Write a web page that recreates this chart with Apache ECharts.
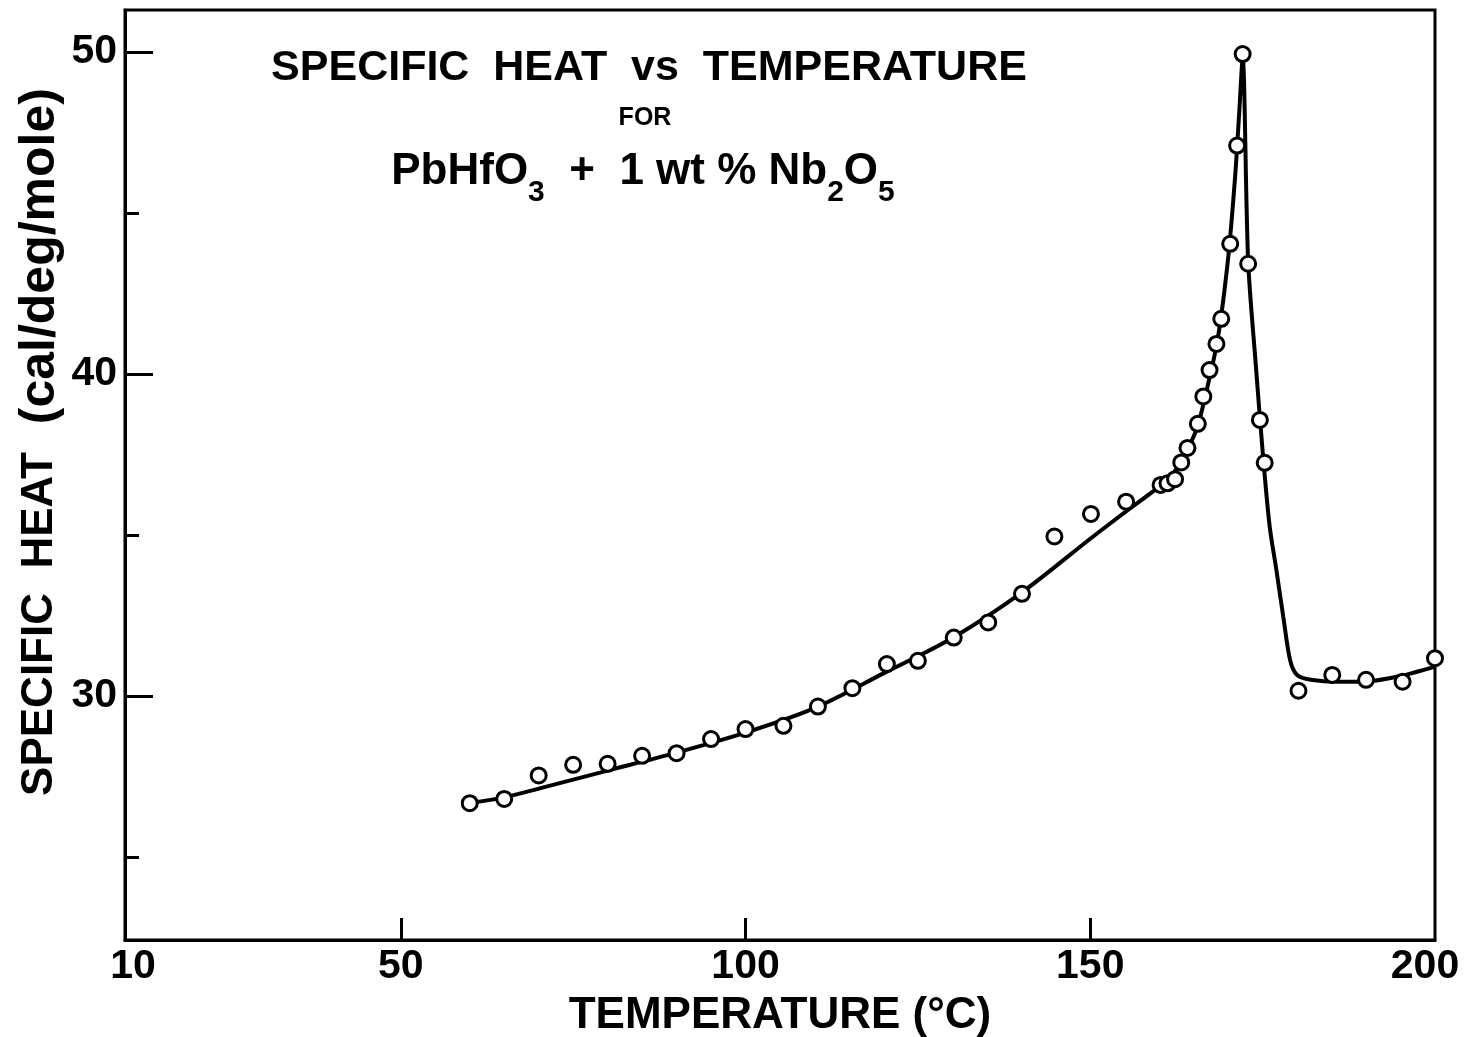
<!DOCTYPE html>
<html>
<head>
<meta charset="utf-8">
<script src="https://cdn.jsdelivr.net/npm/echarts@6/dist/echarts.min.js"></script>
<style>
  html, body { margin: 0; padding: 0; background: #fff; }
  #chart { width: 1466px; height: 1037px; }
</style>
</head>
<body>
<div id="chart"></div>
<script>
// Measured specific heat (open circles)
const measuredTemp = [60, 65, 70, 75, 80, 85, 90, 95, 100, 105.5, 110.5, 115.5, 120.5, 125, 130.2, 135.2,
  140.1, 144.8, 150.1, 155.2, 160.2, 161.2, 162.3, 163.2, 164.1, 165.6, 166.4, 167.3, 168.3, 169,
  170.3, 171.3, 172.1, 172.9, 174.6, 175.3, 180.2, 185.1, 190, 195.3, 200];
const measuredCp = [26.67, 26.80, 27.53, 27.86, 27.89, 28.14, 28.22, 28.66, 28.97, 29.07, 29.67, 30.24, 30.99, 31.09, 31.81, 32.28,
  33.17, 34.95, 35.65, 36.03, 36.55, 36.6, 36.73, 37.25, 37.7, 38.45, 39.3, 40.12, 40.93, 41.71,
  44.04, 47.09, 49.93, 43.42, 38.57, 37.24, 30.16, 30.65, 30.5, 30.44, 31.17];

// Hand-drawn smooth curve through the measurements
const curveTemp = [60, 65, 70, 80, 90, 100, 110, 120, 130, 140, 150, 155, 160, 162, 164,
  165.6, 167, 168.5, 170, 171, 171.6, 172.1, 172.9, 174, 175, 176, 177, 178, 179, 180, 182, 186, 190, 195, 200];
const curveCp = [26.67, 26.85, 27.12, 27.68, 28.24, 28.86, 29.62, 30.7, 31.8, 33.2, 34.88, 35.7, 36.5, 36.9, 37.6,
  38.4, 39.6, 41.1, 43.6, 46.1, 48.1, 49.8, 43.5, 40.3, 37.6, 35.3, 33.9, 32.45, 31.1, 30.65, 30.5, 30.44, 30.45, 30.62, 30.91];

// Axis tick labels
const xTickLabels = [10, 50, 100, 150, 200];
const xTickMarks = [50, 100, 150];
const yMajorTicks = [30, 40, 50];
const yMinorTicks = [25, 35, 45];

const FONT = '"Liberation Sans", Arial, sans-serif';
const INK = '#000';

const measured = measuredTemp.map((t, i) => [t, measuredCp[i]]);
const curve = curveTemp.map((t, i) => [t, curveCp[i]]);

const labelFont = { color: INK, fontFamily: FONT, fontWeight: 'bold', fontSize: 41 };

const chart = echarts.init(document.getElementById('chart'), null, { renderer: 'canvas' });

chart.setOption({
  animation: false,
  backgroundColor: '#fff',
  grid: {
    left: 125, right: 31, top: 10, bottom: 97,
    outerBoundsMode: 'none', containLabel: false,
    show: true, borderColor: INK, borderWidth: 3, backgroundColor: 'transparent'
  },
  xAxis: {
    type: 'value', min: 10, max: 200,
    axisLine: { show: true, lineStyle: { color: INK, width: 3 } },
    axisTick: { show: true, inside: true, length: 22, customValues: xTickMarks, lineStyle: { color: INK, width: 3 } },
    axisLabel: {
      customValues: xTickLabels, ...labelFont, margin: 6,
      // end labels are nudged inward so they stay under the frame corners
      formatter: v => v === 10 ? '{l|10}' : v === 200 ? '{r|200}' : String(v),
      rich: {
        l: { ...labelFont, padding: [0, 0, 0, 16] },
        r: { ...labelFont, padding: [0, 20, 0, 0] }
      }
    },
    splitLine: { show: false },
    name: 'TEMPERATURE (°C)',
    nameLocation: 'middle', nameGap: 54,
    nameTextStyle: { color: INK, fontFamily: FONT, fontWeight: 'bold', fontSize: 44 }
  },
  yAxis: [
    {
      type: 'value', min: 22.42, max: 51.3,
      axisLine: { show: true, lineStyle: { color: INK, width: 3 } },
      axisTick: { show: true, inside: true, length: 28, customValues: yMajorTicks, lineStyle: { color: INK, width: 3 } },
      axisLabel: { customValues: yMajorTicks, ...labelFont, margin: 8 },
      splitLine: { show: false }
    },
    {
      type: 'value', min: 22.42, max: 51.3, position: 'left',
      axisLine: { show: false },
      axisTick: { show: true, inside: true, length: 14, customValues: yMinorTicks, lineStyle: { color: INK, width: 3 } },
      axisLabel: { show: false },
      splitLine: { show: false }
    }
  ],
  graphic: [
    {
      type: 'text', x: 649, y: 68,
      style: {
        text: 'SPECIFIC  HEAT  vs  TEMPERATURE',
        fill: INK, font: 'bold 43px ' + FONT, align: 'center', verticalAlign: 'middle'
      }
    },
    {
      type: 'text', x: 645, y: 118,
      style: {
        text: 'FOR',
        fill: INK, font: 'bold 25px ' + FONT, align: 'center', verticalAlign: 'middle'
      }
    },
    {
      type: 'text', x: 643, y: 172,
      style: {
        text: '{m|PbHfO}{s|3}{m|  +  1 wt % Nb}{s|2}{m|O}{s|5}',
        align: 'center', verticalAlign: 'middle',
        rich: {
          m: { fill: INK, fontFamily: FONT, fontWeight: 'bold', fontSize: 44, lineHeight: 72, verticalAlign: 'middle' },
          s: { fill: INK, fontFamily: FONT, fontWeight: 'bold', fontSize: 30, lineHeight: 72, verticalAlign: 'bottom' }
        }
      }
    },
    {
      type: 'text', x: 40, y: 442, rotation: Math.PI / 2,
      style: {
        text: '{b|SPECIFIC  HEAT}{c|  (cal/deg/mole)}',
        align: 'center', verticalAlign: 'middle',
        rich: {
          b: { fill: INK, fontFamily: FONT, fontWeight: 'bold', fontSize: 44 },
          c: { fill: INK, fontFamily: FONT, fontWeight: 'bold', fontSize: 50 }
        }
      }
    }
  ],
  series: [
    {
      type: 'line', data: curve, yAxisIndex: 0,
      smooth: 0.3,
      showSymbol: false, symbol: 'none',
      lineStyle: { color: INK, width: 4 },
      z: 2
    },
    {
      type: 'scatter', data: measured, yAxisIndex: 0,
      symbol: 'circle', symbolSize: 15,
      itemStyle: { color: '#fff', borderColor: INK, borderWidth: 3, opacity: 1 },
      z: 3
    }
  ]
});
</script>
</body>
</html>
